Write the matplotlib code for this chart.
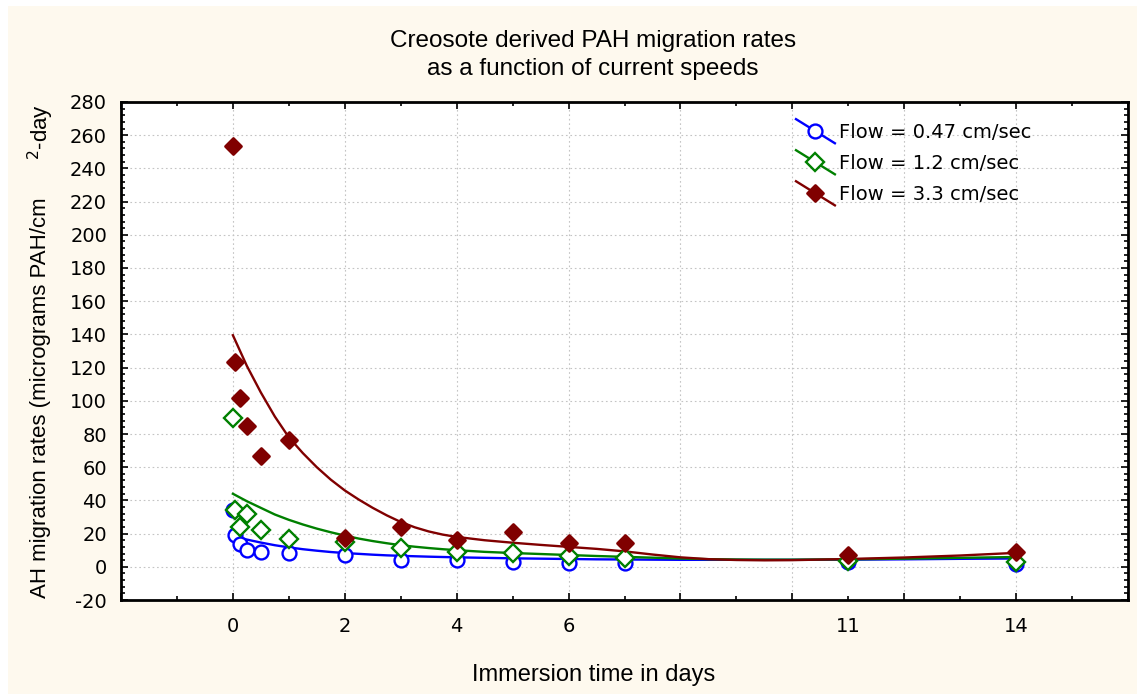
########PAH migration rates vs immersion time########

import matplotlib
matplotlib.use("Agg")
import matplotlib.pyplot as plt
from matplotlib.lines import Line2D
from matplotlib.markers import MarkerStyle
from matplotlib.patches import Rectangle
from matplotlib.legend_handler import HandlerLine2D
from matplotlib.ticker import FixedLocator, MultipleLocator, FuncFormatter

plt.rcParams["axes.unicode_minus"] = False

############DATA###################
# sampling times (days) shared by the three flow series
days = [0, 0.04, 0.125, 0.25, 0.5, 1, 2, 3, 4, 5, 6, 7, 11, 14]
flow_047 = [34.0, 19.0, 13.7, 10.0, 8.7, 8.1, 6.9, 4.0, 4.0, 2.6, 2.5, 2.0, 3.0, 1.5]
flow_12 = [89.7, 34.3, 23.8, 31.9, 22.2, 16.7, 15.0, 11.1, 8.9, 8.6, 6.4, 5.2, 3.3, 3.0]
flow_33 = [253.7, 123.6, 101.4, 84.7, 66.5, 76.2, 17.1, 24.2, 16.0, 21.0, 14.6, 14.6, 7.0, 8.8]

# smoothed trend through each series
fit_days = [0, 0.25, 0.5, 0.75, 1, 1.25, 1.5, 1.75, 2, 2.25, 2.5, 2.75, 3, 3.25, 3.5, 3.75, 4, 4.5,
            5, 5.5, 6, 6.5, 7, 7.5, 8, 8.5, 9, 9.5, 10, 11, 12, 13, 14]
fit_047 = [18.5, 16.4, 14.6, 13.0, 11.7, 10.6, 9.7, 8.9, 8.3, 7.8, 7.3, 6.9, 6.6, 6.35, 6.1, 5.9, 5.7, 5.4,
           5.1, 4.9, 4.7, 4.5, 4.4, 4.3, 4.2, 4.2, 4.2, 4.2, 4.2, 4.3, 4.5, 4.8, 5.0]
fit_12 = [44.0, 39.5, 35.5, 31.5, 28.3, 25.5, 23.0, 20.8, 18.8, 17.0, 15.5, 14.2, 13.0, 12.1, 11.3, 10.6, 10.0, 9.0,
          8.3, 7.7, 7.1, 6.5, 6.0, 5.5, 5.0, 4.6, 4.4, 4.3, 4.3, 4.5, 4.9, 5.4, 5.9]
fit_33 = [139.5, 121.0, 105.0, 90.5, 78.0, 68.5, 60.0, 52.5, 46.0, 40.5, 35.5, 31.0, 27.0, 23.8, 21.3, 19.4, 18.0, 16.0,
          14.5, 13.2, 12.0, 10.8, 9.3, 7.4, 5.7, 4.6, 4.1, 3.9, 4.0, 4.7, 5.6, 6.8, 8.4]

labels = ["Flow = 0.47 cm/sec", "Flow = 1.2 cm/sec", "Flow = 3.3 cm/sec"]
tick_days = [0, 2, 4, 6, 11, 14]
##################################

W, H = 1137, 694
BLUE, GREEN, RED = "#0000FF", "#008000", "#800000"
CREAM = "#FEF9EE"
SANS = "Liberation Sans"


# legend key: slanted line with the marker in the middle
class SlashHandler(HandlerLine2D):
    def create_artists(self, legend, orig_handle, xdescent, ydescent,
                       width, height, fontsize, trans):
        x0 = -xdescent
        x1 = -xdescent + width
        ym = height / 2.0 - ydescent
        dy = 0.62 * fontsize
        line = Line2D([x0, x1], [ym + dy, ym - dy])
        self.update_prop(line, orig_handle, legend)
        line.set_marker("None")
        line.set_transform(trans)
        dot = Line2D([(x0 + x1) / 2.0], [ym])
        self.update_prop(dot, orig_handle, legend)
        dot.set_linestyle("None")
        dot.set_transform(trans)
        return [line, dot]


fig = plt.figure(figsize=(W / 100, H / 100), dpi=100, facecolor="white")
fig.patches.append(Rectangle((8 / W, 0), 1, 688 / H, transform=fig.transFigure,
                             facecolor=CREAM, edgecolor="none", zorder=-10))

ax = fig.add_axes([121 / W, (H - 600) / H, (1128 - 121) / W, (600 - 102) / H])
ax.set_facecolor("white")

# marker styles per series
blue_kw = dict(marker="o", ms=10, mfc="white", mec=BLUE, mew=1.7)
green_kw = dict(marker="D", ms=9, mfc="white", mec=GREEN, mew=1.7)
red_kw = dict(marker=MarkerStyle("D", joinstyle="round"), ms=8.5, mfc=RED, mec=RED, mew=2)

# trend lines
ax.plot(fit_days, fit_047, color=BLUE, lw=1.7, zorder=2)
ax.plot(fit_days, fit_12, color=GREEN, lw=1.7, zorder=2)
ax.plot(fit_days, fit_33, color=RED, lw=1.7, zorder=2)

# measured points
ax.plot(days, flow_047, ls="none", zorder=3, **blue_kw)
ax.plot(days, flow_12, ls="none", zorder=4, **green_kw)
ax.plot(days, flow_33, ls="none", zorder=5, **red_kw)

# legend proxies
h1 = Line2D([], [], color=BLUE, lw=1.7, **blue_kw)
h2 = Line2D([], [], color=GREEN, lw=1.7, **green_kw)
h3 = Line2D([], [], color=RED, lw=1.7, **red_kw)
leg = ax.legend([h1, h2, h3], labels, loc="upper left",
                bbox_to_anchor=(796 / W, (H - 123) / H), bbox_transform=fig.transFigure,
                frameon=False, fontsize=14, handlelength=2.0, handletextpad=0.2,
                labelspacing=0.62, borderpad=0, borderaxespad=0,
                handler_map={Line2D: SlashHandler()})

# axes, ticks, grid
ax.set_xlim(-2, 16)
ax.set_ylim(-20, 280)
ax.xaxis.set_major_locator(FixedLocator(range(-2, 17, 2)))
ax.xaxis.set_minor_locator(FixedLocator(range(-1, 16, 2)))
ax.xaxis.set_major_formatter(FuncFormatter(lambda v, p: "%g" % v if v in tick_days else ""))
ax.xaxis.set_minor_formatter(FuncFormatter(lambda v, p: "%g" % v if v in tick_days else ""))
ax.yaxis.set_major_locator(MultipleLocator(20))
ax.yaxis.set_minor_locator(MultipleLocator(4))

ax.tick_params(which="both", direction="in", top=True, right=True, width=1.2,
               labelsize=14, colors="black")
ax.tick_params(which="major", length=5)
ax.tick_params(which="minor", length=3)
ax.tick_params(axis="x", which="both", pad=12)
ax.tick_params(axis="y", which="both", pad=10)
ax.grid(which="major", color="#C4C4C4", linestyle=(0, (1.5, 2.5)), linewidth=0.8)
ax.set_axisbelow(True)
for s in ax.spines.values():
    s.set_linewidth(2)
    s.set_color("black")

# titles
fig.text(593 / W, (H - 47) / H, "Creosote derived PAH migration rates",
         ha="center", va="baseline", fontsize=17.5, family=SANS)
fig.text(593 / W, (H - 75) / H, "as a function of current speeds",
         ha="center", va="baseline", fontsize=17.5, family=SANS)
fig.text(594 / W, (H - 681) / H, "Immersion time in days",
         ha="center", va="baseline", fontsize=17, family=SANS)
fig.text(41 / W, (H - 598) / H, "AH migration rates (micrograms PAH/cm",
         rotation=90, ha="center", va="bottom", fontsize=16, family=SANS)
fig.text(41 / W, (H - 160) / H, "$^{2}$-day",
         rotation=90, ha="center", va="bottom", fontsize=16, family=SANS)

fig.savefig("out.png", dpi=100)
